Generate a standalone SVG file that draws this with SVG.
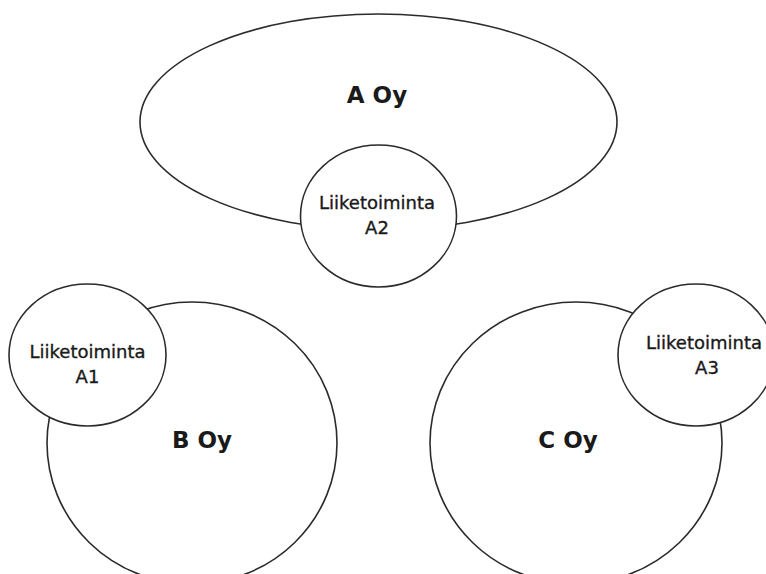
<svg xmlns="http://www.w3.org/2000/svg" width="766" height="574" viewBox="0 0 766 574">
  <style>
    .shape { fill: #ffffff; stroke: #2b2b2b; stroke-width: 1.6; }
    .company { font-family: "DejaVu Sans", "Liberation Sans", sans-serif; font-weight: 700; font-size: 23px; fill: #1a1a1a; text-anchor: middle; dominant-baseline: central; }
    .unit { font-family: "DejaVu Sans", "Liberation Sans", sans-serif; font-weight: 400; font-size: 18px; fill: #1a1a1a; stroke: #1a1a1a; stroke-width: 0.35; text-anchor: middle; dominant-baseline: central; }
  </style>
  <rect width="766" height="574" fill="#ffffff"/>

  <!-- A Oy with its business unit A2 -->
  <g id="a-oy">
    <ellipse class="shape" cx="378.5" cy="122" rx="238.5" ry="108"/>
    <text class="company" x="377" y="95">A Oy</text>
  </g>
  <g id="liiketoiminta-a2">
    <ellipse class="shape" cx="378.5" cy="216" rx="78" ry="71"/>
    <text class="unit" x="377" y="202">Liiketoiminta</text>
    <text class="unit" x="377" y="227">A2</text>
  </g>

  <!-- B Oy with its business unit A1 -->
  <g id="b-oy">
    <ellipse class="shape" cx="192" cy="443" rx="145" ry="141"/>
    <text class="company" x="202" y="440">B Oy</text>
  </g>
  <g id="liiketoiminta-a1">
    <ellipse class="shape" cx="87.5" cy="355" rx="78.5" ry="71"/>
    <text class="unit" x="87.5" y="351">Liiketoiminta</text>
    <text class="unit" x="87.5" y="376">A1</text>
  </g>

  <!-- C Oy with its business unit A3 -->
  <g id="c-oy">
    <ellipse class="shape" cx="576" cy="443" rx="146" ry="141"/>
    <text class="company" x="568" y="440">C Oy</text>
  </g>
  <g id="liiketoiminta-a3">
    <ellipse class="shape" cx="696" cy="355" rx="78" ry="71"/>
    <text class="unit" x="704" y="342">Liiketoiminta</text>
    <text class="unit" x="707" y="367">A3</text>
  </g>
</svg>
